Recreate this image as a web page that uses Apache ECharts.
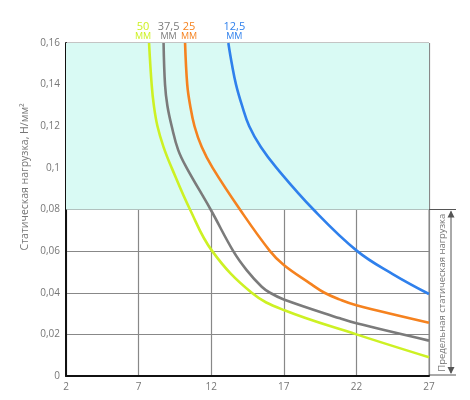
<!DOCTYPE html>
<html>
<head>
<meta charset="utf-8">
<script src="https://cdn.jsdelivr.net/npm/echarts@6/dist/echarts.min.js"></script>
<style>
html,body{margin:0;padding:0;background:#fff;}
#chart{width:470px;height:400px;}
</style>
</head>
<body>
<div id="chart"></div>
<script>
// толщина плиты, мм
var names = ['50', '37,5', '25', '12,5'];
var colors = ['#cdf124', '#7b7b7b', '#f5821f', '#2f80ec'];

// кривые: x (ось абсцисс) и нагрузка, Н/мм²
var x50 = [7.72, 7.9, 8.05, 8.3, 8.72, 9.28, 10.54, 12.07, 14.79, 17, 22, 27];
var y50 = [0.16, 0.14, 0.13, 0.12, 0.11, 0.10, 0.08, 0.06, 0.04, 0.0317, 0.020, 0.009];

var x375 = [8.72, 8.82, 8.98, 9.28, 9.73, 10.31, 11.96, 13.52, 14.44, 15.48, 16.05, 17, 20.87, 22, 27];
var y375 = [0.16, 0.14, 0.13, 0.12, 0.1085, 0.10, 0.08, 0.06, 0.0509, 0.0429, 0.04, 0.0368, 0.0277, 0.0253, 0.017];

var x25 = [10.2, 10.35, 10.55, 10.85, 11.35, 12.1, 13.98, 16.05, 17, 18.8, 19.8, 20.87, 22, 27];
var y25 = [0.16, 0.14, 0.13, 0.12, 0.11, 0.10, 0.08, 0.06, 0.0533, 0.0445, 0.04, 0.0367, 0.034, 0.0256];

var x125 = [13.18, 13.42, 13.71, 14.12, 14.62, 15.42, 16.5, 19.04, 22.06, 24.5, 27];
var y125 = [0.16, 0.15, 0.14, 0.13, 0.12, 0.11, 0.10, 0.08, 0.06, 0.049, 0.0394];

var xTicks = {min: 2, max: 27, step: 5};
var yTicks = {min: 0, max: 0.16, step: 0.02};
var limitLoad = [0, 0.08];   // предельная статическая нагрузка
var yTitle = 'Статическая нагрузка, Н/мм²';
var bracketTitle = 'Предельная статическая нагрузка';

var FONT = 'Open Sans';

function pairs(xs, ys) {
	var out = [];
	for (var i = 0; i < xs.length; i++) out.push([xs[i], ys[i]]);
	return out;
}

function curve(idx, xs, ys, dx) {
	return {
		name: names[idx],
		type: 'line',
		smooth: 0.4,
		showSymbol: false,
		symbol: 'none',
		lineStyle: {color: colors[idx], width: 2.6},
		data: pairs(xs, ys),
		z: 3,
		markPoint: {
			symbol: 'circle',
			symbolSize: 0,
			silent: true,
			data: [{coord: [xs[0], ys[0]]}],
			label: {
				show: true,
				position: 'top',
				distance: 2,
				offset: [dx, 0],
				formatter: '{a|' + names[idx] + '}\n{b|ММ}',
				rich: {
					a: {fontFamily: FONT, fontSize: 11, color: colors[idx], lineHeight: 10, align: 'center'},
					b: {fontFamily: FONT, fontSize: 9, color: colors[idx], lineHeight: 9, align: 'center'}
				}
			}
		}
	};
}

var chart = echarts.init(document.getElementById('chart'));

var series = [
	curve(0, x50, y50, -6),
	curve(1, x375, y375, 5),
	curve(2, x25, y25, 4),
	curve(3, x125, y125, 6)
];
// голубая зона над предельной нагрузкой
series[0].markArea = {
	silent: true,
	itemStyle: {color: '#d9faf4'},
	data: [[{yAxis: limitLoad[1]}, {yAxis: yTicks.max}]]
};

chart.setOption({
	animation: false,
	grid: {left: 66, right: 41, top: 43, bottom: 24, show: true, borderColor: '#888', borderWidth: 1},
	xAxis: {
		type: 'value',
		min: xTicks.min, max: xTicks.max, interval: xTicks.step,
		axisLine: {show: true, onZero: false, lineStyle: {color: '#111', width: 2}},
		axisTick: {show: false},
		splitLine: {show: true, lineStyle: {color: '#888', width: 1.2}},
		axisLabel: {color: '#777', fontFamily: FONT, fontSize: 10, margin: 6}
	},
	yAxis: {
		type: 'value',
		min: yTicks.min, max: yTicks.max, interval: yTicks.step,
		axisLine: {show: true, lineStyle: {color: '#111', width: 2}},
		axisTick: {show: false},
		splitLine: {show: true, lineStyle: {color: '#888', width: 1.2}},
		axisLabel: {
			color: '#777', fontFamily: FONT, fontSize: 10, margin: 6,
			formatter: function(v) { return String(+v.toFixed(2)).replace('.', ','); }
		}
	},
	series: series
});

// подписи и скобка предельной нагрузки
var pTop = chart.convertToPixel({gridIndex: 0}, [xTicks.max, limitLoad[1]]);
var pBot = chart.convertToPixel({gridIndex: 0}, [xTicks.max, limitLoad[0]]);
var pMidY = chart.convertToPixel({gridIndex: 0}, [xTicks.min, 0.1]);
var ax = pTop[0] + 22;
var lineCol = '#555';

chart.setOption({
	graphic: [
		{type: 'text', x: 25, y: pMidY[1] + 9, rotation: Math.PI / 2,
			style: {text: yTitle, fill: '#777', font: '10.5px "' + FONT + '"', align: 'center', verticalAlign: 'middle'}},
		{type: 'line', shape: {x1: pTop[0], y1: pTop[1], x2: pTop[0] + 27, y2: pTop[1]}, style: {stroke: lineCol, lineWidth: 1}},
		{type: 'line', shape: {x1: pBot[0], y1: pBot[1] - 1, x2: pBot[0] + 27, y2: pBot[1] - 1}, style: {stroke: lineCol, lineWidth: 1}},
		{type: 'line', shape: {x1: ax, y1: pTop[1] + 2, x2: ax, y2: pBot[1] - 3}, style: {stroke: lineCol, lineWidth: 1}},
		{type: 'polygon', shape: {points: [[ax, pTop[1] + 1], [ax - 3.5, pTop[1] + 8], [ax + 3.5, pTop[1] + 8]]}, style: {fill: lineCol}},
		{type: 'polygon', shape: {points: [[ax, pBot[1] - 2], [ax - 3.5, pBot[1] - 9], [ax + 3.5, pBot[1] - 9]]}, style: {fill: lineCol}},
		{type: 'text', x: ax - 9, y: (pTop[1] + pBot[1]) / 2, rotation: Math.PI / 2,
			style: {text: bracketTitle, fill: '#777', font: '9.5px "' + FONT + '"', align: 'center', verticalAlign: 'middle'}}
	]
});
</script>
</body>
</html>
